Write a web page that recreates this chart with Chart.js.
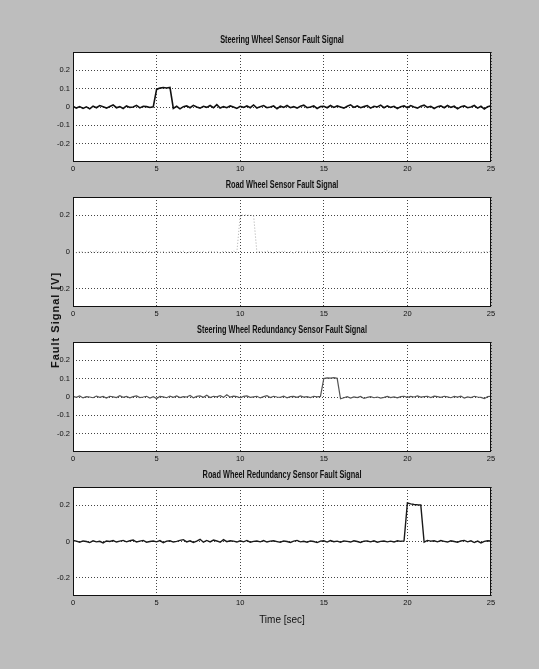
<!DOCTYPE html>
<html>
<head>
<meta charset="utf-8">
<script src="https://cdn.jsdelivr.net/npm/chart.js@4.4.1/dist/chart.umd.min.js"></script>
<style>
    html, body { margin: 0; padding: 0; }
    body {
        width: 539px;
        height: 669px;
        background: #bdbdbd;
        position: relative;
        overflow: hidden;
        font-family: 'Liberation Sans', sans-serif;
    }
    canvas { position: absolute; }
    #ylabel {
        position: absolute;
        left: 55px;
        top: 320px;
        transform: translate(-50%, -50%) rotate(-90deg);
        font-size: 11px;
        font-weight: bold;
        letter-spacing: 1px;
        white-space: nowrap;
        color: #111;
    }
</style>
</head>
<body>
<canvas id="p1" width="462" height="144" style="left:39px;top:34px"></canvas>
<canvas id="p2" width="462" height="144" style="left:39px;top:179px"></canvas>
<canvas id="p3" width="462" height="144" style="left:39px;top:324px"></canvas>
<canvas id="p4" width="462" height="161" style="left:39px;top:469px"></canvas>
<div id="ylabel">Fault Signal [V]</div>
<script>
// sampled every 0.2 s, 0..25 s
const sampleStep = 0.2;

const xTicks = [0, 5, 10, 15, 20, 25];
const yTicksFine = [-0.2, -0.1, 0, 0.1, 0.2];
const yTicksCoarse = [-0.2, 0, 0.2];

const titles = [
    'Steering Wheel Sensor Fault Signal',
    'Road Wheel Sensor Fault Signal',
    'Steering Wheel Redundancy Sensor Fault Signal',
    'Road Wheel Redundancy Sensor Fault Signal',
];

// steering wheel sensor: fault 5..6 s
const steeringFault = [
    0.004, -0.006, 0.002, -0.008, 0.001, -0.010, 0.005, -0.004, 0.008, 0.002,
    -0.006, 0.003, 0.011, -0.004, 0.002, -0.008, 0.006, -0.002, 0.000, 0.009,
    -0.005, 0.004, 0.002, -0.003, 0.001,
    0.096, 0.103, 0.106, 0.104, 0.107,
    -0.008, 0.004, -0.010, 0.002, 0.006, -0.004, 0.009, 0.000, -0.006, 0.004,
    -0.002, 0.008, -0.004, 0.013, -0.006, 0.002, -0.004, 0.006, 0.000, -0.008,
    0.004, -0.002, 0.006, -0.004, 0.011, -0.006, 0.002, 0.008, -0.004, 0.000,
    0.006, -0.010, 0.004, -0.002, 0.008, -0.004, 0.002, -0.006, 0.004, 0.010,
    -0.004, 0.000, 0.006, -0.008, 0.002, 0.004, -0.004, 0.008, -0.002, 0.006,
    0.000, -0.006, 0.004, 0.012, -0.002, 0.006, -0.004, 0.002, 0.008, -0.006,
    0.004, 0.000, 0.010, -0.004, 0.006, -0.002, 0.004, -0.008, 0.002, 0.006,
    -0.004, 0.008, 0.000, -0.006, 0.004, 0.010, -0.002, 0.004, -0.008, 0.002,
    0.006, -0.004, 0.008, -0.002, 0.004, -0.010, 0.002, 0.006, -0.004, 0.000,
    0.008, -0.006, 0.004, -0.011, 0.002, 0.006,
];

// road wheel sensor: fault 10..11 s (faint trace)
const roadFault = [
    0.003, -0.004, 0.002, 0.000, -0.005, 0.004, -0.002, 0.006, -0.003, 0.001,
    0.005, -0.004, 0.002, -0.006, 0.003, 0.000, 0.004, -0.002, 0.007, -0.003,
    0.002, -0.005, 0.004, 0.001, -0.003, 0.006, -0.002, 0.003, -0.004, 0.002,
    0.005, -0.003, 0.001, 0.004, -0.006, 0.002, 0.000, 0.005, -0.002, 0.003,
    -0.004, 0.006, -0.001, 0.002, -0.005, 0.004, 0.001, -0.003, 0.005, -0.002,
    0.198, 0.202, 0.201, 0.199, 0.200,
    -0.003, 0.004, -0.002, 0.005, 0.000, -0.004, 0.003, -0.001, 0.006, -0.003,
    0.002, -0.005, 0.004, 0.001, -0.002, 0.005, -0.004, 0.002, 0.000, 0.006,
    -0.003, 0.001, 0.004, -0.005, 0.002, -0.001, 0.005, -0.003, 0.003, 0.000,
    -0.004, 0.006, -0.002, 0.002, 0.004, -0.003, 0.001, -0.005, 0.003, 0.007,
    -0.002, 0.000, 0.004, -0.004, 0.002, 0.005, -0.003, 0.001, -0.002, 0.006,
    0.000, -0.004, 0.003, 0.001, -0.005, 0.004, -0.002, 0.006, 0.000, -0.003,
    0.002, 0.005, -0.004, 0.001, 0.003, -0.002, 0.004, -0.005, 0.002, 0.000,
    0.003,
];

// steering wheel redundancy sensor: fault 15..16 s
const steeringRedFault = [
    0.004, -0.002, 0.006, -0.005, 0.002, 0.000, -0.004, 0.005, -0.002, 0.003,
    -0.006, 0.004, 0.001, -0.003, 0.007, -0.002, 0.003, -0.005, 0.002, 0.006,
    -0.003, 0.000, 0.004, -0.006, 0.002, -0.008, 0.003, 0.001, -0.004, 0.005,
    -0.002, 0.006, -0.003, 0.002, 0.000, 0.008, -0.004, 0.003, 0.006, -0.002,
    0.010, -0.003, 0.004, 0.001, 0.007, -0.002, 0.012, -0.001, 0.005, 0.002,
    -0.004, 0.003, 0.006, -0.002, 0.001, 0.004, -0.005, 0.002, 0.007, -0.003,
    0.004, 0.000, -0.002, 0.005, -0.004, 0.002, 0.003, -0.002, 0.006, -0.001,
    0.002, -0.003, 0.004, 0.001, 0.003,
    0.101, 0.104, 0.103, 0.106, 0.102,
    -0.010, -0.004, 0.002, -0.006, 0.001, -0.003, 0.003, -0.008, -0.002, 0.002,
    -0.004, 0.000, -0.006, -0.002, 0.003, -0.003, 0.001, -0.005, 0.002, 0.004,
    -0.002, 0.003, 0.000, 0.006, -0.001, 0.002, 0.004, -0.003, 0.005, 0.002,
    -0.002, 0.004, 0.001, -0.004, 0.003, -0.001, 0.005, -0.006, 0.001, -0.003,
    0.004, 0.000, -0.002, -0.009, 0.002, 0.004,
];

// road wheel redundancy sensor: fault 20..21 s
const roadRedFault = [
    0.006, 0.002, -0.004, 0.003, 0.000, -0.006, 0.004, -0.002, 0.001, -0.008,
    0.003, 0.000, 0.005, -0.003, 0.002, 0.006, -0.002, 0.004, 0.008, -0.003,
    0.002, 0.006, -0.004, 0.000, 0.003, -0.002, 0.005, -0.006, 0.002, 0.004,
    -0.003, 0.001, 0.006, 0.010, -0.002, 0.004, -0.005, 0.002, 0.012, -0.004,
    0.006, -0.002, 0.008, 0.003, -0.004, 0.010, -0.001, 0.004, 0.002, -0.003,
    0.004, -0.002, 0.006, -0.004, 0.001, 0.003, -0.002, 0.005, -0.003, 0.002,
    0.004, -0.001, -0.004, 0.003, 0.000, -0.005, 0.002, 0.006, -0.002, 0.001,
    -0.004, 0.003, 0.000, -0.006, 0.002, 0.004, -0.003, 0.005, -0.001, 0.002,
    -0.004, 0.003, 0.001, -0.003, 0.004, 0.000, -0.005, 0.002, 0.003, -0.002,
    0.004, -0.004, 0.001, 0.003, -0.002, 0.002, -0.003, 0.004, 0.001, 0.003,
    0.212, 0.207, 0.204, 0.202, 0.201,
    -0.004, 0.006, 0.002, 0.004, -0.002, 0.005, 0.001, -0.003, 0.004, 0.000,
    -0.004, 0.003, 0.006, -0.002, 0.004, -0.006, 0.002, -0.008, 0.001, 0.004,
    0.003,
];

const FONT = "'Liberation Sans', Arial, sans-serif";

// white axes box, black frame, and a narrow (squeezed) title centred on the plot
const frame = {
    id: 'frame',
    beforeDraw(chart) {
        const { ctx, chartArea: a } = chart;
        ctx.save();
        ctx.fillStyle = '#ffffff';
        ctx.fillRect(a.left, a.top, a.right - a.left, a.bottom - a.top);
        ctx.restore();
    },
    afterDraw(chart, args, opts) {
        const { ctx, chartArea: a } = chart;
        ctx.save();
        ctx.strokeStyle = '#111';
        ctx.lineWidth = 1;
        ctx.strokeRect(a.left + 0.5, a.top + 0.5, a.right - a.left - 1, a.bottom - a.top - 1);

        ctx.translate((a.left + a.right) / 2, a.top - 12);
        ctx.scale(0.7, 1);
        ctx.font = 'bold 10.5px ' + FONT;
        ctx.fillStyle = '#111';
        ctx.textAlign = 'center';
        ctx.textBaseline = 'middle';
        ctx.fillText(opts.text, 0, 0);
        ctx.restore();
    },
};

function panel(id, title, values, yTicks, color, width, dash, xTitle) {
    const points = values.map((v, i) => ({ x: i * sampleStep, y: v }));
    return new Chart(document.getElementById(id), {
        type: 'line',
        data: {
            datasets: [{
                data: points,
                borderColor: color,
                borderWidth: width,
                borderDash: dash,
                pointRadius: 0,
                tension: 0,
            }],
        },
        options: {
            responsive: false,
            animation: false,
            layout: { padding: { left: 0, right: 10, top: 18, bottom: 0 } },
            plugins: {
                legend: { display: false },
                tooltip: { enabled: false },
                title: { display: false },
                frame: { text: title },
            },
            scales: {
                x: {
                    type: 'linear',
                    min: 0,
                    max: 25,
                    afterBuildTicks: (s) => { s.ticks = xTicks.map((v) => ({ value: v })); },
                    afterFit: (s) => { s.height = xTitle ? 34 : 16; },
                    grid: { color: '#444', lineWidth: 1, drawTicks: false },
                    border: { display: false, dash: [1, 2] },
                    ticks: { color: '#111', padding: 2, maxRotation: 0, font: { family: FONT, size: 7.5 } },
                    title: {
                        display: !!xTitle,
                        text: xTitle || '',
                        color: '#111',
                        font: { family: FONT, size: 10 },
                        padding: { top: 4, bottom: 4 },
                    },
                },
                y: {
                    min: -0.3,
                    max: 0.3,
                    afterBuildTicks: (s) => { s.ticks = yTicks.map((v) => ({ value: v })); },
                    afterFit: (s) => { s.width = 34; },
                    grid: { color: '#444', lineWidth: 1, drawTicks: false },
                    border: { display: false, dash: [1, 2] },
                    ticks: {
                        color: '#111',
                        padding: 3,
                        font: { family: FONT, size: 7.5 },
                        callback: (v) => String(v),
                    },
                },
            },
        },
        plugins: [frame],
    });
}

panel('p1', titles[0], steeringFault, yTicksFine, '#111', 1.6, []);
panel('p2', titles[1], roadFault, yTicksCoarse, '#aaaaaa', 1, [1, 2]);
panel('p3', titles[2], steeringRedFault, yTicksFine, '#555', 1.2, []);
panel('p4', titles[3], roadRedFault, yTicksCoarse, '#1a1a1a', 1.4, [], 'Time [sec]');
</script>
</body>
</html>
